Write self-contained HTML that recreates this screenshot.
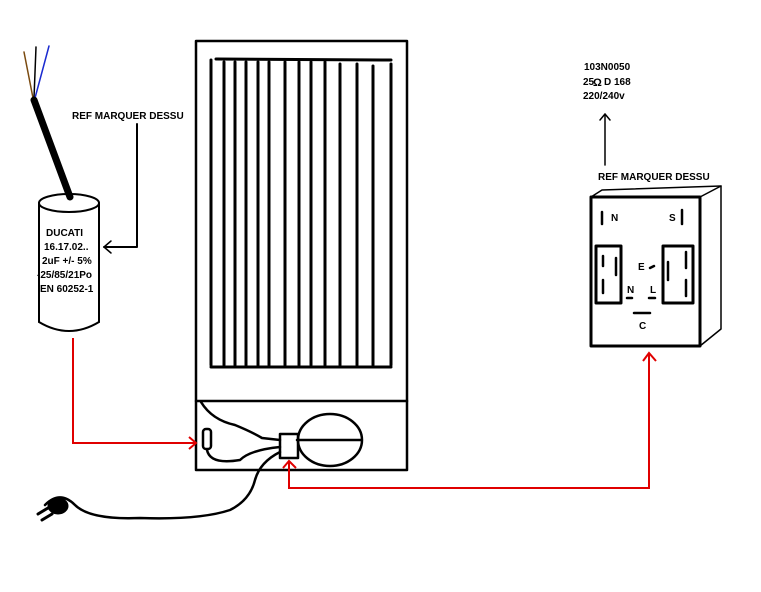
<!DOCTYPE html>
<html><head><meta charset="utf-8"><style>
html,body{margin:0;padding:0;background:#fff;width:761px;height:592px;overflow:hidden}
svg{display:block}
text{font-family:"Liberation Sans",Arial,sans-serif;font-weight:bold;font-size:10px;fill:#000}
</style></head><body>
<svg width="761" height="592" viewBox="0 0 761 592" xmlns="http://www.w3.org/2000/svg">
<g fill="none" stroke="#000" stroke-linecap="round" stroke-linejoin="round">
<!-- capacitor wires -->
<line x1="33" y1="98" x2="24" y2="52" stroke="#7a4a10" stroke-width="1.5"/>
<line x1="34" y1="98" x2="36" y2="47" stroke-width="1.5"/>
<line x1="35" y1="98" x2="49" y2="46" stroke="#1a2ad0" stroke-width="1.5"/>
<line x1="34" y1="100" x2="70" y2="197" stroke-width="7"/>
<!-- capacitor -->
<ellipse cx="69" cy="203" rx="30" ry="9" stroke-width="2"/>
<line x1="39" y1="203" x2="39" y2="322" stroke-width="2"/>
<line x1="99" y1="203" x2="99" y2="322" stroke-width="2"/>
<path d="M39 322 Q69 340 99 322" stroke-width="2"/>
<!-- ref line left -->
<polyline points="137,124 137,247 104,247" stroke-width="2"/>
<polyline points="111,241 104,247 111,253" stroke-width="1.5"/>
<!-- fridge -->
<rect x="196" y="41" width="211" height="429" stroke-width="2.5"/>
<line x1="196" y1="401" x2="407" y2="401" stroke-width="2.5"/>
<line x1="216" y1="59" x2="391" y2="60" stroke-width="3"/>
<line x1="211" y1="367" x2="391" y2="367" stroke-width="3"/>
<g stroke-width="3">
<line x1="211" y1="60" x2="211" y2="365"/><line x1="224" y1="62" x2="224" y2="365"/>
<line x1="235" y1="62" x2="235" y2="365"/><line x1="246" y1="62" x2="246" y2="365"/>
<line x1="258" y1="62" x2="258" y2="365"/><line x1="269" y1="62" x2="269" y2="365"/>
<line x1="285" y1="62" x2="285" y2="365"/><line x1="299" y1="62" x2="299" y2="365"/>
<line x1="311" y1="62" x2="311" y2="365"/><line x1="325" y1="62" x2="325" y2="365"/>
<line x1="340" y1="64" x2="340" y2="365"/><line x1="357" y1="64" x2="357" y2="365"/>
<line x1="373" y1="66" x2="373" y2="365"/><line x1="391" y1="64" x2="391" y2="365"/>
</g>
<!-- compartment -->
<ellipse cx="330" cy="440" rx="32" ry="26" stroke-width="2.5"/>
<line x1="297" y1="440" x2="361" y2="440" stroke-width="2.5"/>
<rect x="280" y="434" width="18" height="24" stroke-width="2.5"/>
<rect x="203" y="429" width="8" height="20" rx="3" stroke-width="2.5"/>
<path d="M201 402 Q212 420 235 425 Q252 432 262 438 L280 440" stroke-width="2.5"/>
<path d="M207 450 Q210 465 240 460 Q250 450 280 447" stroke-width="2.5"/>
<path d="M280 452 Q260 462 255 480 Q250 500 230 510 Q200 520 140 518 Q90 520 75 505 Q60 490 45 505" stroke-width="2.5"/>
<!-- plug -->
<ellipse cx="58" cy="506" rx="10" ry="8" fill="#000" stroke-width="1"/>
<line x1="48" y1="508" x2="38" y2="514" stroke-width="3"/>
<line x1="52" y1="514" x2="42" y2="520" stroke-width="3"/>
<!-- right device -->
<polygon points="591,197 700,197 700,346 591,346" stroke-width="3"/>
<polyline points="591,197 602,190 721,186 721,329 700,346" stroke-width="1.5"/>
<line x1="700" y1="197" x2="721" y2="186" stroke-width="1.5"/>
<rect x="596" y="246" width="25" height="57" stroke-width="3"/>
<rect x="663" y="246" width="30" height="57" stroke-width="3"/>
<g stroke-width="2.5">
<line x1="602" y1="212" x2="602" y2="224"/><line x1="682" y1="210" x2="682" y2="224"/>
<line x1="603" y1="256" x2="603" y2="266"/><line x1="603" y1="280" x2="603" y2="293"/>
<line x1="616" y1="258" x2="616" y2="275"/>
<line x1="668" y1="262" x2="668" y2="280"/><line x1="686" y1="252" x2="686" y2="268"/><line x1="686" y1="280" x2="686" y2="296"/>
<line x1="634" y1="313" x2="650" y2="313"/>
<line x1="627" y1="298" x2="632" y2="298"/><line x1="649" y1="298" x2="655" y2="298"/>
<line x1="650" y1="268" x2="654" y2="266"/>
</g>
<line x1="605" y1="165" x2="605" y2="114" stroke-width="1.5"/>
<polyline points="600,120 605,114 610,120" stroke-width="1.5"/>
</g>
<!-- red connectors -->
<g fill="none" stroke="#e00000" stroke-width="2">
<polyline points="73,338 73,443 196,443"/>
<polyline points="189,437 196,443 189,449"/>
<polyline points="289,462 289,488 649,488 649,354"/>
<polyline points="283,468 289,461 296,468"/>
<polyline points="643,361 649,353 656,361"/>
</g>
<text x="72" y="119">REF MARQUER DESSU</text>
<text x="46" y="236">DUCATI</text>
<text x="44" y="250">16.17.02..</text>
<text x="42" y="264">2uF +/- 5%</text>
<text x="37" y="278">-25/85/21Po</text>
<text x="40" y="292">EN 60252-1</text>
<text x="598" y="180">REF MARQUER DESSU</text>
<text x="584" y="70">103N0050</text>
<text x="583" y="85">25</text>
<text x="593" y="86" style="font-size:11px">Ω</text>
<text x="604" y="85">D 168</text>
<text x="583" y="99">220/240v</text>
<text x="611" y="221">N</text>
<text x="669" y="221">S</text>
<text x="638" y="270">E</text>
<text x="627" y="293">N</text>
<text x="650" y="293">L</text>
<text x="639" y="329">C</text>
</svg>
</body></html>
